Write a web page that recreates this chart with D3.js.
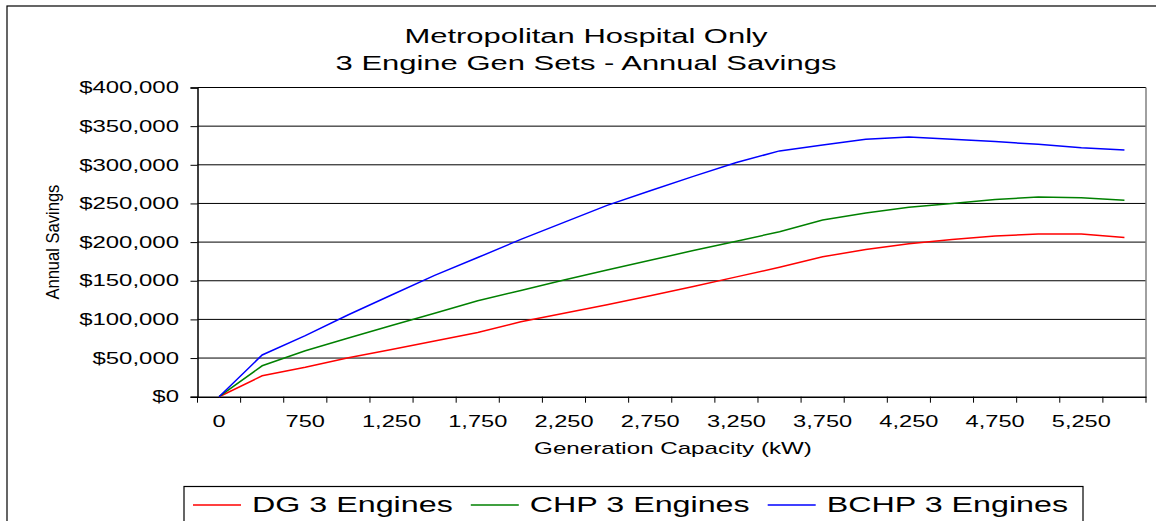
<!DOCTYPE html>
<meta charset="utf-8">
<script src="https://d3js.org/d3.v7.min.js"></script>
<style>
  body { margin: 0; background: #fff; }
  text { font-family: "Liberation Sans", Arial, sans-serif; fill: #000; }
</style>
<div id="my_dataviz"></div>
<script>

// data
var capacity = [0, 500, 750, 1000, 1250, 1500, 1750, 2000, 2250, 2500, 2750, 3000,
                3250, 3500, 3750, 4000, 4250, 4500, 4750, 5000, 5250, 5500];
var dgSavings = [0, 27000, 38000, 50500, 61000, 72000, 83000, 97000, 108000, 119000, 130500,
                 142500, 155000, 167500, 181000, 190500, 198000, 203500, 208000, 210500, 210500, 206000];
var chpSavings = [0, 40000, 59500, 76000, 92000, 108000, 124000, 137500, 151000, 164000, 176500,
                  189000, 201000, 213500, 228500, 237500, 245000, 250000, 255000, 258500, 257500, 254000];
var bchpSavings = [0, 54000, 79000, 106000, 131500, 157000, 180000, 203500, 225500, 247500, 266500,
                   285000, 303000, 318000, 325500, 333000, 336000, 333000, 330000, 326500, 322000, 319000];
var yTicks = [0, 50000, 100000, 150000, 200000, 250000, 300000, 350000, 400000];
var seriesNames = ["DG 3 Engines", "CHP 3 Engines", "BCHP 3 Engines"];
var seriesColors = ["#ff0000", "#008000", "#0000ff"];

var width = 1156, height = 521;
var plot = {left: 197.5, right: 1146, top: 87.5, bottom: 396.7};

var svg = d3.select("#my_dataviz")
  .append("svg")
    .attr("width", width)
    .attr("height", height);

// the picture is stretched sideways, so every text gets widened too
function widen(sel, k) {
  var w = 0;
  sel.each(function() {
    var len = this.getComputedTextLength() * k;
    w = len;
    d3.select(this)
      .attr("textLength", len)
      .attr("lengthAdjust", "spacingAndGlyphs");
  });
  return w;
}

// outer chart border (cut off on the right and bottom)
svg.append("rect")
  .attr("x", 7).attr("y", 6)
  .attr("width", 1200).attr("height", 600)
  .attr("fill", "none").attr("stroke", "#000").attr("stroke-width", 1.2);

// scales
var x = d3.scaleBand()
  .domain(capacity)
  .range([plot.left, plot.right]);

var y = d3.scaleLinear()
  .domain([0, 400000])
  .range([plot.bottom, plot.top]);

// gridlines
svg.append("g")
  .selectAll("line")
  .data(yTicks.filter(function(d) { return d > 0; }))
  .enter().append("line")
    .attr("x1", plot.left).attr("x2", plot.right)
    .attr("y1", function(d) { return y(d); })
    .attr("y2", function(d) { return y(d); })
    .attr("stroke", "#000").attr("stroke-width", 1);

// right edge of the plot area
svg.append("line")
  .attr("x1", plot.right).attr("x2", plot.right)
  .attr("y1", plot.top).attr("y2", plot.bottom)
  .attr("stroke", "#808080").attr("stroke-width", 1.5);

// Y axis
var yAxis = svg.append("g")
  .attr("transform", "translate(" + plot.left + ",0)")
  .call(d3.axisLeft(y).tickValues(yTicks).tickSize(7).tickPadding(0).tickFormat(d3.format("$,")));
yAxis.select(".domain").attr("stroke", "#000").attr("stroke-width", 1.5);
yAxis.selectAll(".tick line").attr("stroke", "#000");
yAxis.selectAll(".tick text")
  .attr("x", -18.5)
  .attr("font-size", "16.3px");
widen(yAxis.selectAll(".tick text"), 1.47);

// X axis: labels on every other category, tick marks between categories
var xAxis = svg.append("g")
  .attr("transform", "translate(0," + plot.bottom + ")")
  .call(d3.axisBottom(x).tickSize(0).tickPadding(0)
    .tickFormat(function(d, i) { return i % 2 ? "" : d3.format(",")(d); }));
xAxis.select(".domain").attr("stroke", "#000").attr("stroke-width", 1.5);
xAxis.selectAll(".tick text")
  .attr("y", 30).attr("dy", 0)
  .attr("font-size", "16.3px");
widen(xAxis.selectAll(".tick text"), 1.45);

svg.append("g")
  .selectAll("line")
  .data(capacity.concat(["end"]))
  .enter().append("line")
    .attr("x1", function(d) { return d === "end" ? plot.right : x(d); })
    .attr("x2", function(d) { return d === "end" ? plot.right : x(d); })
    .attr("y1", plot.bottom).attr("y2", plot.bottom + 6)
    .attr("stroke", "#000").attr("stroke-width", 1);

// lines
var allSeries = [dgSavings, chpSavings, bchpSavings];
var line = d3.line()
  .x(function(d, i) { return x(capacity[i]) + x.bandwidth() / 2; })
  .y(function(d) { return y(d); });

svg.append("g")
  .selectAll("path")
  .data(allSeries)
  .enter().append("path")
    .attr("d", line)
    .attr("fill", "none")
    .attr("stroke", function(d, i) { return seriesColors[i]; })
    .attr("stroke-width", 1.5);

// titles
var title = svg.append("g");
title.append("text")
  .attr("x", 586).attr("y", 42.5)
  .attr("text-anchor", "middle").attr("font-size", "19.6px")
  .text("Metropolitan Hospital Only");
title.append("text")
  .attr("x", 586).attr("y", 69.5)
  .attr("text-anchor", "middle").attr("font-size", "19.6px")
  .text("3 Engine Gen Sets - Annual Savings");
widen(title.selectAll("text"), 1.58);

var xTitle = svg.append("text")
  .attr("x", 673).attr("y", 454.3)
  .attr("text-anchor", "middle").attr("font-size", "17px")
  .text("Generation Capacity (kW)");
widen(xTitle, 1.42);

var yTitle = svg.append("text")
  .attr("transform", "translate(58.5," + ((plot.top + plot.bottom) / 2) + ") rotate(-90)")
  .attr("text-anchor", "middle").attr("font-size", "19px")
  .text("Annual Savings");
yTitle.attr("textLength", 115).attr("lengthAdjust", "spacingAndGlyphs");

// legend
svg.append("rect")
  .attr("x", 184).attr("y", 486.5)
  .attr("width", 1083 - 184).attr("height", 60)
  .attr("fill", "#fff").attr("stroke", "#000").attr("stroke-width", 1.2);

var lx = 193;
seriesNames.forEach(function(name, i) {
  svg.append("line")
    .attr("x1", lx).attr("x2", lx + 48)
    .attr("y1", 505).attr("y2", 505)
    .attr("stroke", seriesColors[i]).attr("stroke-width", 1.5);
  var t = svg.append("text")
    .attr("x", lx + 59).attr("y", 512)
    .attr("font-size", "21.5px")
    .text(name);
  var w = widen(t, 1.5);
  lx = lx + 59 + w + 18;
});

</script>
